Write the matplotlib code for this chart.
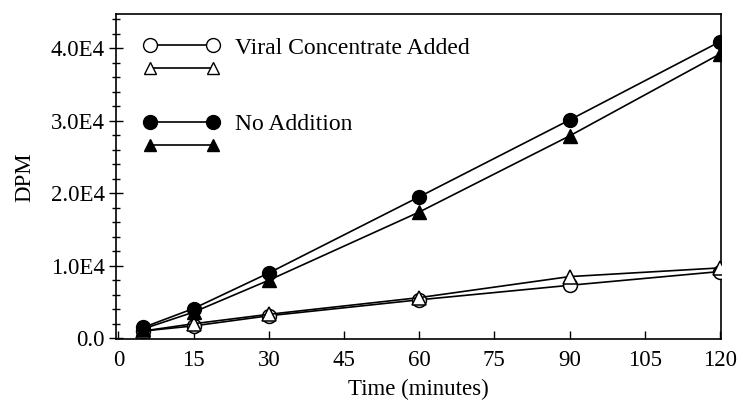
import matplotlib
matplotlib.use("Agg")
import matplotlib.pyplot as plt
from matplotlib.ticker import MultipleLocator, FuncFormatter
from matplotlib.lines import Line2D

time = [5, 15, 30, 60, 90, 120]
viral_circle = [1000, 1700, 3100, 5300, 7300, 9200]
viral_triangle = [1000, 2000, 3300, 5600, 8500, 9700]
none_circle = [1500, 4100, 9000, 19500, 30100, 40900]
none_triangle = [1300, 3600, 8000, 17400, 27900, 39200]

xticks = [0, 15, 30, 45, 60, 75, 90, 105, 120]
yticks = [0, 10000, 20000, 30000, 40000]

plt.rcParams['font.family'] = ['Liberation Serif', 'DejaVu Serif']

fig = plt.figure(figsize=(7.43, 4.03), dpi=100)
ax = fig.add_axes([0.156, 0.158, 0.815, 0.807])

lw = 1.2
ms = 10
ax.plot(time, viral_circle, '-', color='black', lw=lw, marker='o', ms=ms,
        mfc='white', mec='black', mew=1.1, zorder=3)
ax.plot(time, viral_triangle, '-', color='black', lw=lw, marker='^', ms=ms,
        mfc='white', mec='black', mew=1.1, zorder=3)
ax.plot(time, none_circle, '-', color='black', lw=lw, marker='o', ms=ms,
        mfc='black', mec='black', zorder=4)
ax.plot(time, none_triangle, '-', color='black', lw=lw, marker='^', ms=ms,
        mfc='black', mec='black', zorder=4)

ax.set_xlim(-0.5, 120.3)
ax.set_ylim(-150, 44700)
ax.set_xticks(xticks)
ax.set_yticks(yticks)
ax.yaxis.set_minor_locator(MultipleLocator(2000))
ax.yaxis.set_major_formatter(FuncFormatter(
    lambda v, p: "0.0" if v == 0 else "%.1fE4" % (v / 10000)))

fs = 16.5
ax.tick_params(axis='x', direction='in', length=6, width=1.0, labelsize=fs, pad=8)
ax.tick_params(axis='y', which='major', direction='inout', length=10, width=1.0,
               labelsize=fs, pad=3)
ax.tick_params(axis='y', which='minor', direction='inout', length=6, width=1.0)
for s in ax.spines.values():
    s.set_linewidth(1.2)

ax.set_xlabel("Time (minutes)", fontsize=fs, labelpad=5)
ax.set_ylabel("DPM", fontsize=fs, labelpad=11)

h1 = Line2D([], [], color='black', lw=lw, marker='o', ms=ms, mfc='white', mec='black')
h2 = Line2D([], [], color='black', lw=lw, marker='^', ms=ms - 1, mfc='white', mec='black')
h3 = Line2D([], [], color='black', lw=lw, marker='o', ms=ms, mfc='black', mec='black')
h4 = Line2D([], [], color='black', lw=lw, marker='^', ms=ms - 1, mfc='black', mec='black')

lfs = 17
common = dict(numpoints=2, loc='upper left', frameon=False, fontsize=lfs,
              handlelength=3.25, handletextpad=0.65, labelspacing=0.05,
              borderaxespad=0.0, borderpad=0.0)
leg1 = ax.legend([h1, h2], ["Viral Concentrate Added", ""],
                 bbox_to_anchor=(0.045, 0.929), **common)
ax.add_artist(leg1)
ax.legend([h3, h4], ["No Addition", ""],
          bbox_to_anchor=(0.045, 0.694), **common)

fig.savefig("out.png", dpi=100)
